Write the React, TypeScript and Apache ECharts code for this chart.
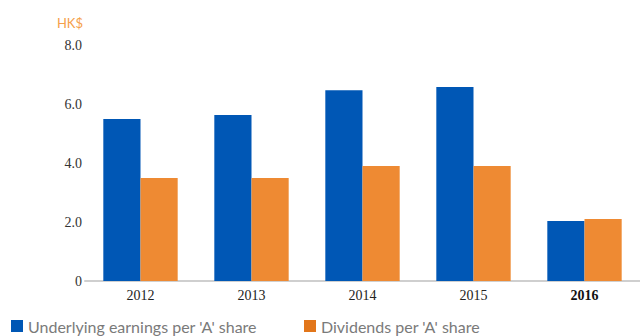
import React, { useEffect, useRef } from "react";
import * as echarts from "echarts";

const years = ["2012", "2013", "2014", "2015", "2016"];
const earnings = [5.49, 5.63, 6.47, 6.58, 2.03];
const dividends = [3.49, 3.49, 3.9, 3.9, 2.1];
const yTicks = [0, 2, 4, 6, 8];
const seriesNames = ["Underlying earnings per 'A' share", "Dividends per 'A' share"];

export default function App() {
  const ref = useRef<HTMLDivElement>(null);
  useEffect(() => {
    const chart = echarts.init(ref.current!, null, { renderer: "svg" });
    const legendBase = {
      top: 318,
      padding: 0,
      itemWidth: 12,
      itemHeight: 12,
      icon: "rect",
      textStyle: {
        color: "#7a7a7a",
        fontSize: 16,
        fontFamily: "Lato",
      },
    };
    chart.setOption({
      animation: false,
      grid: { left: 85, right: 0, top: 45, bottom: 55 },
      legend: [
        { ...legendBase, left: 11, data: [{ name: seriesNames[0], itemStyle: { color: "#0057b5" } }] },
        { ...legendBase, left: 304, data: [{ name: seriesNames[1], itemStyle: { color: "#e2761a" } }] },
      ],
      graphic: [
        {
          type: "text",
          right: 640 - 83,
          top: 16,
          style: { text: "HK$", fill: "#f5a04a", fontSize: 13, fontFamily: "Lato" },
        },
      ],
      xAxis: {
        type: "category",
        data: years,
        axisLine: { lineStyle: { color: "#cfcfcf", width: 2 } },
        axisTick: { show: false },
        axisLabel: {
          margin: 7,
          fontFamily: "Liberation Serif",
          fontSize: 14,
          color: "#222",
          formatter: (v: string) => (v === "2016" ? "{b|" + v + "}" : v),
          rich: { b: { fontWeight: "bold", fontFamily: "Liberation Serif", fontSize: 14, color: "#111" } },
        },
      },
      yAxis: {
        type: "value",
        min: yTicks[0],
        max: yTicks[yTicks.length - 1],
        interval: 2,
        axisLine: { show: false },
        axisTick: { show: false },
        splitLine: { show: false },
        axisLabel: {
          margin: 3,
          fontFamily: "Liberation Serif",
          fontSize: 14,
          color: "#333",
          formatter: (v: number) => (v === 0 ? "0" : v.toFixed(1)),
        },
      },
      series: [
        {
          name: seriesNames[0],
          type: "bar",
          data: earnings,
          barGap: "0%",
          barCategoryGap: "33%",
          itemStyle: { color: "#0057b5" },
        },
        {
          name: seriesNames[1],
          type: "bar",
          data: dividends,
          itemStyle: { color: "#ee8a33" },
        },
      ],
    });
    return () => chart.dispose();
  }, []);
  return <div ref={ref} style={{ width: 640, height: 336, position: "absolute", left: 0, top: 0 }} />;
}
